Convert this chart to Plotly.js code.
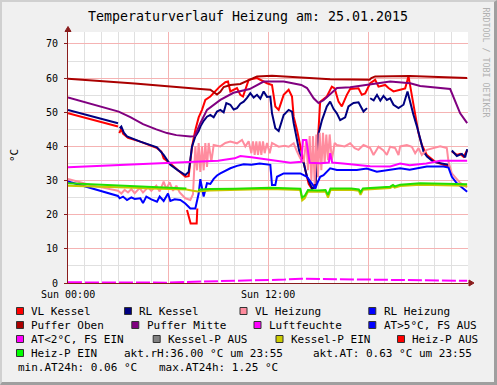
<!DOCTYPE html>
<html><head><meta charset="utf-8">
<script src="https://cdn.plot.ly/plotly-3.0.1.min.js"></script>
<style>
html,body{margin:0;padding:0;background:#f0f0f0;}
#wrap{position:relative;width:497px;height:385px;}
#chart{width:497px;height:385px;}
#frame{position:absolute;left:0;top:0;width:497px;height:385px;box-sizing:border-box;border-style:solid;border-width:2px 3px 3px 2px;border-color:#d0d0d0 #9f9f9f #9f9f9f #d0d0d0;pointer-events:none;}
</style></head>
<body><div id="wrap"><div id="chart"></div><div id="frame"></div></div>
<script>
// ---- data (hour of day, °C) ----
const vlKessel = [[0,49.7],[3.0,45.8],[3.04,null],[3.08,43.9],[3.2,45.3],[3.3,43.7],[3.6,42.5],[4.34,41.4],[5.34,39.5],[5.6,38.5],[5.74,36.5],[6.14,35.0],[6.6,33.0],[7.04,31.1],[7.24,31.3],[7.44,39.9],[7.64,44.8],[7.84,48.5],[8.04,50.7],[8.24,53.6],[8.54,54.6],[8.9,56.6],[9.1,57.5],[9.44,58.8],[9.6,59.0],[9.74,56.1],[10.14,57.1],[10.34,55.1],[10.5,54.6],[10.84,59.5],[11.34,60.0],[11.94,58.5],[12.24,58.0],[12.44,51.7],[12.64,50.7],[12.94,55.1],[13.24,56.6],[13.44,54.6],[13.54,48.7],[13.74,44.8],[13.94,39.9],[14.24,33.1],[14.44,29.0],[14.64,27.5],[14.84,29.0],[14.94,37.0],[15.04,45.0],[15.13,53.1],[15.53,54.6],[15.83,57.5],[16.0,57.0],[16.23,53.1],[16.43,51.7],[16.73,55.1],[16.93,56.8],[17.43,57.0],[17.63,55.1],[17.83,55.5],[18.13,58.5],[18.43,59.5],[18.63,57.5],[19.03,58.0],[19.23,57.1],[19.53,56.1],[19.93,56.6],[20.23,57.0],[20.43,60.5],[20.63,54.6],[20.83,49.7],[21.03,43.9],[21.23,40.4],[21.53,37.5],[22.03,35.5],[22.53,34.6],[22.83,34.1],[22.93,null],[23.03,38.5],[23.33,37.5],[23.53,37.8],[23.73,37.0],[23.95,38.8]];
const rlKessel = [[0,50.7],[3.0,46.8],[3.05,null],[3.1,45.3],[3.2,45.8],[3.35,44.0],[3.54,42.9],[4.34,41.4],[5.34,39.7],[5.74,37.5],[6.14,34.6],[6.6,33.0],[7.04,31.6],[7.24,32.5],[7.44,39.9],[7.64,42.9],[7.84,44.5],[7.94,45.8],[8.14,47.5],[8.34,48.7],[8.54,49.2],[8.74,48.5],[8.94,50.2],[9.14,50.7],[9.34,50.0],[9.5,52.7],[9.74,52.2],[9.94,50.8],[10.14,51.2],[10.34,52.5],[10.54,53.1],[10.74,54.2],[10.94,55.6],[11.14,54.3],[11.34,55.1],[11.54,54.0],[11.74,56.1],[11.94,54.5],[12.14,54.6],[12.24,49.7],[12.44,45.3],[12.64,44.5],[12.94,49.2],[13.24,50.7],[13.44,50.2],[13.54,46.8],[13.74,41.9],[13.94,37.0],[14.14,35.1],[14.34,31.1],[14.64,27.7],[14.84,27.9],[14.94,37.0],[15.04,43.9],[15.24,47.7],[15.53,51.7],[15.73,53.1],[15.93,51.0],[16.13,49.7],[16.33,47.7],[16.63,48.5],[16.83,51.7],[17.13,52.7],[17.43,52.9],[17.73,50.2],[17.94,51.2],[18.03,null],[18.13,54.1],[18.34,53.5],[18.54,55.1],[18.74,53.4],[18.93,54.8],[19.13,53.6],[19.33,54.1],[19.53,52.2],[19.83,51.2],[20.13,52.2],[20.37,56.1],[20.53,52.7],[20.73,49.2],[20.94,45.8],[21.13,41.9],[21.33,38.5],[21.54,37.0],[21.93,35.5],[22.33,35.1],[22.83,34.6],[22.93,null],[23.03,38.8],[23.33,37.2],[23.63,37.8],[23.83,36.8],[23.95,39.2]];
const vlHeizung = [[0,30.5],[0.5,29.8],[1.0,29.2],[1.5,28.5],[2.0,28.0],[2.5,27.5],[3.0,27.0],[3.2,26.2],[3.4,27.3],[3.6,26.5],[3.8,27.5],[4.0,26.3],[4.3,27.8],[4.5,26.5],[4.8,28.0],[5.0,27.0],[5.3,28.5],[5.5,26.8],[5.74,29.7],[5.9,27.5],[6.1,29.5],[6.3,27.0],[6.5,28.5],[6.7,26.5],[6.9,25.5],[7.04,24.8],[7.34,24.3],[7.5,26.0],[7.64,40.0],[7.74,33.0],[7.84,41.0],[7.94,32.5],[8.04,40.0],[8.14,33.0],[8.24,41.0],[8.34,34.0],[8.44,41.0],[8.6,35.5],[8.74,40.4],[9.14,40.0],[9.44,41.0],[9.74,41.4],[10.14,40.9],[10.44,41.9],[10.64,40.0],[10.84,41.5],[11.0,38.0],[11.1,41.5],[11.2,37.5],[11.3,41.5],[11.4,37.5],[11.5,41.5],[11.6,37.5],[11.7,41.5],[11.8,38.0],[11.94,41.0],[12.1,38.0],[12.24,41.0],[12.64,39.9],[13.0,40.2],[13.24,39.9],[13.54,40.9],[13.74,38.5],[13.94,36.5],[14.14,35.5],[14.3,42.0],[14.4,33.0],[14.5,43.0],[14.6,30.0],[14.7,43.0],[14.8,29.0],[14.9,43.5],[15.0,31.0],[15.1,44.0],[15.2,33.0],[15.3,44.0],[15.4,35.0],[15.5,43.5],[15.6,36.0],[15.7,43.5],[15.83,36.0],[16.0,41.0],[16.13,40.4],[16.6,40.0],[16.93,40.9],[17.2,39.5],[17.43,39.0],[17.73,40.4],[18.13,39.5],[18.33,37.5],[18.63,39.9],[18.93,38.8],[19.13,37.5],[19.33,39.9],[19.63,39.5],[19.83,37.5],[19.93,40.0],[20.33,40.4],[20.63,39.9],[20.83,38.0],[21.03,39.5],[21.23,37.5],[21.53,39.0],[21.93,39.5],[22.33,40.0],[22.73,39.5],[22.83,35.5],[23.03,32.1],[23.33,30.5],[23.53,29.3],[23.95,28.0]];
const rlHeizung = [[0,29.7],[0.5,29.0],[1,28.3],[1.5,27.6],[2,27.0],[2.5,26.3],[3.0,25.5],[3.1,24.8],[3.3,25.3],[3.54,24.3],[3.8,25.1],[4.0,24.6],[4.34,24.8],[4.5,23.4],[4.7,25.3],[5.0,24.5],[5.34,23.8],[5.5,25.3],[5.74,24.0],[6.0,26.2],[6.14,24.0],[6.4,24.5],[6.74,24.3],[7.04,23.3],[7.34,21.8],[7.64,21.8],[7.84,26.2],[7.94,30.4],[8.14,25.3],[8.34,29.2],[8.54,29.0],[8.74,30.5],[8.94,31.5],[9.14,32.1],[9.74,33.6],[10.14,34.3],[10.54,34.8],[11.0,34.6],[11.5,35.0],[12.14,34.6],[12.24,28.7],[12.44,28.7],[12.54,31.1],[12.94,32.1],[13.94,32.1],[14.34,31.1],[14.64,29.2],[14.84,27.7],[14.94,29.0],[15.13,31.1],[15.33,31.6],[15.73,33.6],[16.13,33.1],[17.33,33.1],[17.93,33.5],[18.53,32.6],[19.93,33.6],[20.5,33.2],[21.53,34.1],[22.53,34.1],[22.83,33.8],[23.03,31.1],[23.33,29.2],[23.95,26.7]];
const pufferOben = [[0,59.8],[4,58.4],[7.94,56.8],[8.54,56.6],[8.94,55.2],[9.14,56.0],[9.34,57.4],[9.74,58.0],[10.34,58.3],[10.94,59.5],[11.34,60.5],[12.24,60.7],[15.73,59.7],[18.1,59.5],[18.2,60.0],[18.43,60.5],[20.5,60.6],[23.95,60.0]];
const pufferMitte = [[0,54.3],[3.04,50.2],[3.74,48.6],[4.5,46.5],[5.3,45.0],[5.94,43.9],[6.5,43.3],[7.34,42.9],[7.6,43.0],[7.94,46.8],[8.34,50.7],[9.14,53.6],[9.93,55.7],[10.9,56.8],[11.74,59.0],[12.94,59.0],[14.0,58.0],[14.34,57.1],[14.74,54.1],[15.03,52.7],[15.33,53.5],[15.7,55.1],[16.14,57.1],[16.93,57.3],[17.94,58.0],[19.33,59.0],[20.53,58.5],[21.13,57.7],[22.93,56.8],[23.13,54.6],[23.53,49.7],[23.95,46.8]];
const luftfeuchte = [[0,33.9],[1,34.1],[2,34.3],[3,34.6],[4,34.9],[5,35.0],[6,35.2],[7,35.3],[8,35.5],[9,35.8],[10,36.5],[10.34,37.2],[11.0,36.8],[12.14,36.0],[13.34,35.2],[14.0,35.5],[14.1,41.9],[14.3,41.9],[14.45,35.5],[14.5,35.2],[15.13,35.1],[15.65,35.3],[15.73,38.0],[15.85,35.3],[16.5,35.0],[17.5,34.4],[18.13,34.2],[19.33,34.1],[19.93,35.0],[20.5,34.5],[21.5,35.0],[22.33,35.8],[23.95,35.8]];
const atTemp = [[0,0.2],[2,0.15],[4,0.1],[6,0.1],[7,0.3],[9,0.5],[10,0.6],[11,0.7],[12,0.8],[13,1.0],[14,1.25],[15,1.2],[16,1.1],[18,0.9],[20,0.85],[22,0.7],[23.95,0.63]];
const kesselPEin = [[0,28.5],[1,28.4],[2,28.2],[3,28.0],[4,27.9],[5,27.7],[6,27.6],[7.1,27.4],[7.5,27.0],[7.8,26.8],[8.5,27.1],[10,27.2],[12.14,27.5],[13.94,27.2],[14.05,24.2],[14.2,24.8],[14.4,26.8],[15.0,26.7],[15.45,26.8],[15.6,25.0],[15.75,27.2],[17.0,27.3],[17.45,27.0],[17.55,25.8],[17.7,27.3],[19.33,27.8],[19.5,28.3],[19.6,27.9],[19.93,28.4],[21.13,28.8],[23.95,28.5]];
const heizPAus = [[7.14,21.4],[7.28,19.0],[7.36,17.4],[7.72,17.4],[7.76,21.8]];
const heizPEin = [[0,29.2],[1,29.0],[2,28.7],[3,28.4],[4,28.2],[5,28.0],[6,27.9],[7.1,27.7],[7.15,null],[7.8,27.3],[8.5,27.5],[10,27.6],[12.14,27.9],[13.94,27.6],[14.05,25.0],[14.2,25.5],[14.4,27.2],[15.0,27.1],[15.45,27.2],[15.6,25.8],[15.75,27.7],[17.0,27.7],[17.45,27.4],[17.55,26.6],[17.7,27.7],[19.33,28.2],[19.5,28.7],[19.6,28.3],[19.93,28.8],[21.13,29.2],[23.95,28.9]];

const seriesNames = ['VL Kessel','RL Kessel','VL Heizung','RL Heizung','Puffer Oben','Puffer Mitte','Luftfeuchte','AT>5°C, FS AUS','AT<2°C, FS EIN','Kessel-P AUS','Kessel-P EIN','Heiz-P AUS','Heiz-P EIN'];
const seriesColors = ['#ff0000','#000080','#ff8c9e','#0000ff','#aa0000','#800080','#ff00ff','#0000ff','#ff00ff','#808080','#cccc00','#ff0000','#00ff00'];
const seriesData = [vlKessel,rlKessel,vlHeizung,rlHeizung,pufferOben,pufferMitte,luftfeuchte,[],atTemp,[],kesselPEin,heizPAus,heizPEin];
const lineColors = ['#ff0000','#000080','#ff8c9e','#0000ff','#aa0000','#800080','#ff00ff','#0000ff','#ff00ff','#808080','#c8c800','#ff0000','#22e000'];

const tickVals = [0, 12];
const tickText = ['Sun 00:00', 'Sun 12:00'];
const titleText = 'Temperaturverlauf Heizung am: 25.01.2015';
const statsText = ['akt.rH:36.00 °C um 23:55', 'akt.AT: 0.63 °C um 23:55', 'min.AT24h: 0.06 °C', 'max.AT24h: 1.25 °C'];

// ---- layout helpers (pixel -> paper) ----
const L = 68, R = 468, T = 32, B = 283;
const PX = p => (p - L) / (R - L);
const PY = p => (B - p) / (B - T);
const FONT = 'DejaVu Sans Mono, monospace';

const traces = seriesData.map((d, i) => ({
  type: 'scatter', mode: 'lines', name: seriesNames[i],
  x: d.map(p => p[0]), y: d.map(p => p[1]),
  line: {color: lineColors[i], width: 2, dash: i === 8 ? '14px,3px' : 'solid'},
  connectgaps: false, showlegend: false, hoverinfo: 'skip'
}));

// legend grid: [series index, square x px, row]
const legendPos = [[0,16,0],[1,124,0],[2,239.5,0],[3,368.3,0],[4,16,1],[5,131.3,1],[6,253.5,1],[7,368.3,1],[8,16,2],[9,152.7,2],[10,275.5,2],[11,397,2],[12,16,3]];
const rowTop = [307, 321, 335, 349];
const shapes = [];
const annotations = [];
legendPos.forEach(([i, x, r]) => {
  const y0 = rowTop[r];
  shapes.push({type:'rect', xref:'paper', yref:'paper', x0:PX(x+0.5), x1:PX(x+7.5), y0:PY(y0+7.5), y1:PY(y0+0.5),
    fillcolor: seriesColors[i], line:{color:'#333333', width:1}});
  annotations.push({xref:'paper', yref:'paper', x:PX(x+13.3), y:PY(y0+4.2), xanchor:'left', yanchor:'middle',
    text: seriesNames[i].replace(/</g,'&lt;').replace(/>/g,'&gt;'), showarrow:false, font:{family:FONT, size:11, color:'#000'}});
});
[[statsText[0],121.7,353.2],[statsText[1],311.3,353.2],[statsText[2],15.7,367],[statsText[3],157.3,367]].forEach(([t,x,y]) => {
  annotations.push({xref:'paper', yref:'paper', x:PX(x), y:PY(y), xanchor:'left', yanchor:'middle', text:t, showarrow:false,
    font:{family:FONT, size:11, color:'#000'}});
});
// x tick labels
tickVals.forEach((v, k) => annotations.push({xref:'x', yref:'paper', x:v, y:PY(294.5), xanchor:'center', yanchor:'middle',
  text:tickText[k], showarrow:false, font:{family:FONT, size:10, color:'#000'}}));
// y axis title
annotations.push({xref:'paper', yref:'paper', x:PX(14), y:PY(156), text:'°C', textangle:-90, showarrow:false,
  xanchor:'center', yanchor:'middle', font:{family:FONT, size:11, color:'#000'}});
// watermark
annotations.push({xref:'paper', yref:'paper', x:PX(485.5), y:PY(62), text:'RRDTOOL / TOBI OETIKER', textangle:90, showarrow:false,
  xanchor:'center', yanchor:'middle', font:{family:FONT, size:8.3, color:'#b0b0b0'}});
// axis arrows
const ac = '#8a1c1c';
shapes.push({type:'path', xref:'paper', yref:'paper', fillcolor:ac, line:{color:ac, width:1},
  path:`M ${PX(65)} ${PY(31.5)} L ${PX(68)} ${PY(26.5)} L ${PX(71)} ${PY(31.5)} Z`});
shapes.push({type:'line', xref:'paper', yref:'paper', x0:PX(68), x1:PX(68), y0:1, y1:PY(29), line:{color:ac, width:1}});
shapes.push({type:'path', xref:'paper', yref:'paper', fillcolor:ac, line:{color:ac, width:1},
  path:`M ${PX(469)} ${PY(280)} L ${PX(474)} ${PY(283)} L ${PX(469)} ${PY(286)} Z`});
shapes.push({type:'line', xref:'paper', yref:'paper', x0:1, x1:PX(470), y0:0, y1:0, line:{color:ac, width:1}});

const layout = {
  width: 497, height: 385,
  margin: {l: L, r: 497 - R, t: T, b: 385 - B, pad: 0},
  paper_bgcolor: '#f0f0f0', plot_bgcolor: '#ffffff',
  showlegend: false,
  title: {text: titleText, x: 248/497, y: 1 - 16.5/385, xanchor: 'center', yanchor: 'middle', xref:'container', yref:'container',
    font: {family: FONT, size: 13.3, color: '#000'}},
  xaxis: {range: [0, 24], tickmode: 'linear', tick0: 0, dtick: 6, showticklabels: false, ticks: '',
    showgrid: true, gridcolor: '#f5b3b3', gridwidth: 1, zeroline: false,
    showline: true, linecolor: ac, linewidth: 1, mirror: false,
    minor: {dtick: 1, tick0: 0, showgrid: true, gridcolor: '#e0e0e0', gridwidth: 1, ticks: ''}},
  yaxis: {range: [0, 73.5], tickmode: 'linear', tick0: 0, dtick: 10, ticks: 'outside', ticklen: 3, tickcolor: ac,
    tickfont: {family: FONT, size: 10, color: '#000'}, ticklabelstandoff: 4,
    showgrid: true, gridcolor: '#f5b3b3', gridwidth: 1, zeroline: false,
    showline: true, linecolor: ac, linewidth: 1,
    minor: {dtick: 5, tick0: 0, showgrid: true, gridcolor: '#e0e0e0', gridwidth: 1, ticks: ''}},
  shapes: shapes, annotations: annotations
};
Plotly.newPlot('chart', traces, layout, {staticPlot: true, displayModeBar: false});
</script></body></html>
